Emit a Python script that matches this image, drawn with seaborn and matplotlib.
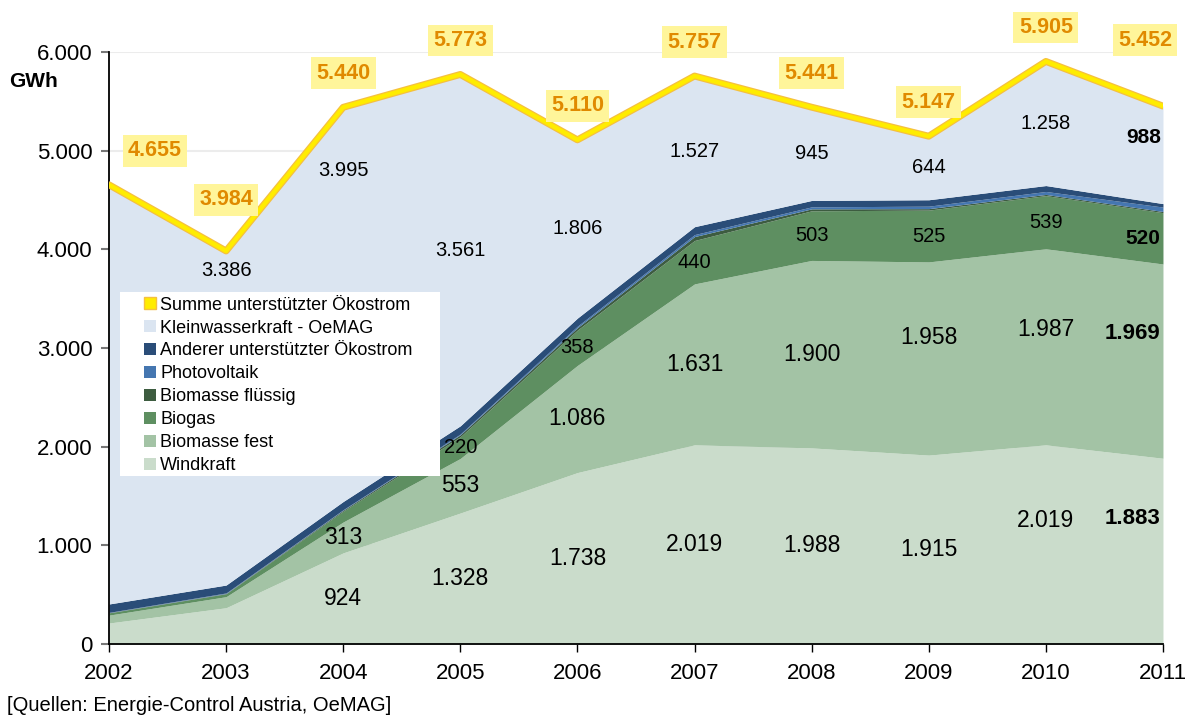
import numpy as np
import pandas as pd
import seaborn as sns
import matplotlib.pyplot as plt
import matplotlib.patheffects as pe
from matplotlib.patches import Patch, Rectangle

# data (GWh)
years = [2002, 2003, 2004, 2005, 2006, 2007, 2008, 2009, 2010, 2011]
windkraft = [213, 368, 924, 1328, 1738, 2019, 1988, 1915, 2019, 1883]
biomasse_fest = [80, 112, 313, 553, 1086, 1631, 1900, 1958, 1987, 1969]
biogas = [23, 30, 110, 220, 358, 440, 503, 525, 539, 520]
biomasse_fluessig = [2, 3, 10, 20, 25, 40, 20, 15, 12, 12]
photovoltaik = [3, 5, 5, 8, 15, 20, 20, 25, 30, 45]
anderer = [85, 80, 83, 83, 82, 80, 65, 65, 60, 35]
kleinwasserkraft = [4249, 3386, 3995, 3561, 1806, 1527, 945, 644, 1258, 988]
summe = [4655, 3984, 5440, 5773, 5110, 5757, 5441, 5147, 5905, 5452]

names = ["Windkraft", "Biomasse fest", "Biogas", "Biomasse flüssig",
         "Photovoltaik", "Anderer unterstützter Ökostrom", "Kleinwasserkraft - OeMAG"]
colors = ["#cadccb", "#a3c3a5", "#5e8f61", "#3d5c40", "#4576b0", "#2a4d78", "#dbe5f1"]

sns.set_style("ticks")
plt.rcParams['font.family'] = ['Liberation Sans', 'DejaVu Sans']
plt.rcParams['text.color'] = 'black'
plt.rcParams['xtick.labelcolor'] = 'black'
plt.rcParams['ytick.labelcolor'] = 'black'

def de(v):
    return f"{v:,.0f}".replace(",", ".")

fig = plt.figure(figsize=(11.95, 7.18), dpi=100)
ax = fig.add_axes([0.0912, 0.103, 0.882, 0.8245])

layers = [windkraft, biomasse_fest, biogas, biomasse_fluessig, photovoltaik, anderer, kleinwasserkraft]
ax.stackplot(years, *layers, colors=colors, linewidth=0, zorder=2)

df = pd.DataFrame({"Jahr": years, "Summe": summe})
sns.lineplot(data=df, x="Jahr", y="Summe", ax=ax, color="#ffec00", lw=3.2, zorder=4,
             path_effects=[pe.Stroke(linewidth=5, foreground="#f5c040"), pe.Normal()])

ax.set_xlim(2002, 2011)
ax.set_ylim(0, 6000)
ax.set_xticks(years)
ax.set_xticklabels([str(y) for y in years], fontsize=16)
ax.set_yticks(range(0, 6001, 1000))
ax.set_yticklabels([de(v) for v in range(0, 6001, 1000)], fontsize=16)
ax.yaxis.grid(True, color="#ececec", lw=1.5, zorder=0)
ax.set_axisbelow(True)
ax.tick_params(axis="y", length=6, width=1.5, color="#777777", pad=6)
ax.tick_params(axis="x", length=6, width=1, color="black", pad=8)
for s in ["top", "right"]:
    ax.spines[s].set_visible(False)
for s in ["left", "bottom"]:
    ax.spines[s].set_color("black")
    ax.spines[s].set_linewidth(1.3)
ax.set_xlabel("")
ax.set_ylabel("")

fig.text(0.008, 0.887, "GWh", fontsize=15, fontweight="bold", ha="left", va="center")
fig.text(0.006, 0.017, "[Quellen: Energie-Control Austria, OeMAG]", fontsize=14.5,
         ha="left", va="center")

# segment labels (midpoints unless placed elsewhere)
arr = np.array(layers, dtype=float)
cum = np.cumsum(arr, axis=0)
label_y = {(6, 2003): 3790, (6, 2004): 4800, (6, 2005): 3990, (6, 2011): 5130,
           (1, 2009): 3110, (1, 2010): 3190, (1, 2011): 3150,
           (0, 2010): 1250, (0, 2011): 1275}
label_rows = {0: range(2, 10), 1: range(2, 10), 2: range(3, 10), 6: range(1, 10)}
label_size = {0: 16.5, 1: 16.5, 2: 14.5, 6: 14.5}
for li, idx in label_rows.items():
    for i in idx:
        y = label_y.get((li, years[i]), cum[li, i] - arr[li, i] / 2)
        last = i == len(years) - 1
        ax.text(years[i] - (0.02 if last else 0), y, de(arr[li, i]),
                fontsize=(16 if li < 2 else 15) if last else label_size[li],
                fontweight="bold" if last else "normal",
                ha="right" if last else "center", va="center", zorder=5)

# total labels
dx = {2002: 46, 2011: -18}
dy = {2003: 51, 2011: 66}
for i, yr in enumerate(years):
    ax.annotate(de(summe[i]), (yr, summe[i]),
                xytext=(dx.get(yr, 0) * 0.72, dy.get(yr, 34) * 0.72),
                textcoords="offset points", ha="center", va="center",
                fontsize=15.5, fontweight="bold", color="#e08a00",
                bbox=dict(boxstyle="square,pad=0.25", fc="#fff59a", ec="none"),
                annotation_clip=False, zorder=6)

# legend on a white panel
ax.add_patch(Rectangle((0.0104, 0.284), 0.3036, 0.311, transform=ax.transAxes,
                       fc="white", ec="none", zorder=6))
handles = [Patch(fc="#ffec00", ec="#f5c040")] + \
          [Patch(fc=c, ec="none") for c in colors[::-1]]
labels = ["Summe unterstützter Ökostrom"] + names[::-1]
leg = ax.legend(handles, labels, loc="upper left", bbox_to_anchor=(0.0332, 0.587),
                fontsize=13, frameon=False, handlelength=0.66, handleheight=0.66,
                handletextpad=0.25, labelspacing=0.33, borderpad=0, borderaxespad=0)
leg.set_zorder(7)

fig.savefig("out.png", dpi=100)
